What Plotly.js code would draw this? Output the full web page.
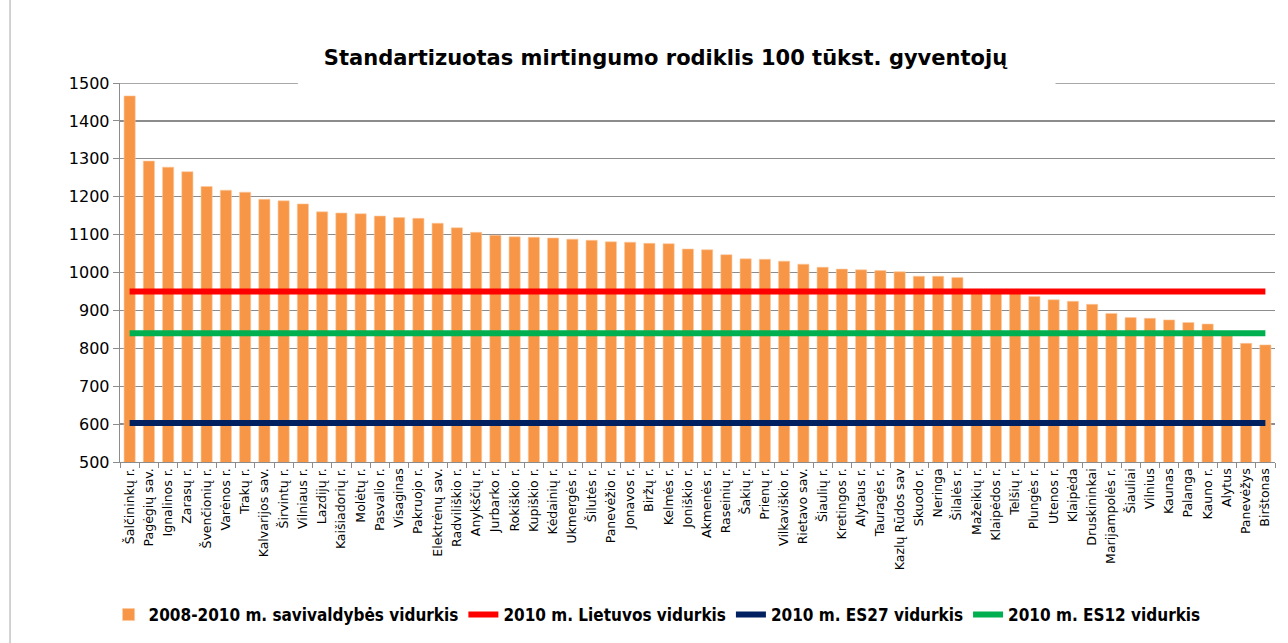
<!DOCTYPE html>
<html>
<head>
<meta charset="utf-8">
<script src="https://cdn.plot.ly/plotly-3.0.1.min.js"></script>
<style>html,body{margin:0;padding:0;background:#fff;}#chart{width:1288px;height:643px;}</style>
</head>
<body>
<div id="chart"></div>
<script>
const municipalities = [
  "Šalčininkų r.","Pagėgių sav.","Ignalinos r.","Zarasų r.","Švenčionių r.","Varėnos r.","Trakų r.","Kalvarijos sav.","Širvintų r.","Vilniaus r.",
  "Lazdijų r.","Kaišiadorių r.","Molėtų r.","Pasvalio r.","Visaginas","Pakruojo r.","Elektrėnų sav.","Radviliškio r.","Anykščių r.","Jurbarko r.",
  "Rokiškio r.","Kupiškio r.","Kėdainių r.","Ukmergės r.","Šilutės r.","Panevėžio r.","Jonavos r.","Biržų r.","Kelmės r.","Joniškio r.",
  "Akmenės r.","Raseinių r.","Šakių r.","Prienų r.","Vilkaviškio r.","Rietavo sav.","Šiaulių r.","Kretingos r.","Alytaus r.","Tauragės r.",
  "Kazlų Rūdos sav","Skuodo r.","Neringa","Šilalės r.","Mažeikių r.","Klaipėdos r.","Telšių r.","Plungės r.","Utenos r.","Klaipėda",
  "Druskininkai","Marijampolės r.","Šiauliai","Vilnius","Kaunas","Palanga","Kauno r.","Alytus","Panevėžys","Birštonas"
];
const municipalAverage = [
  1466,1294,1278,1266,1227,1217,1212,1193,1189,1181,
  1160,1157,1155,1149,1145,1143,1130,1118,1106,1098,
  1094,1093,1091,1088,1085,1081,1080,1077,1076,1062,
  1060,1047,1036,1035,1030,1022,1014,1009,1007,1005,
  1002,990,990,987,952,950,947,937,928,924,
  916,892,881,879,875,868,864,838,813,809
];
const lithuaniaAvg2010 = 950;
const eu27Avg2010 = 603;
const eu12Avg2010 = 840;

const seriesNames = [
  "2008-2010 m. savivaldybės vidurkis",
  "2010 m. Lietuvos vidurkis",
  "2010 m. ES27 vidurkis",
  "2010 m. ES12 vidurkis"
];
const chartTitle = "Standartizuotas mirtingumo rodiklis 100 tūkst. gyventojų";
const yMin = 500, yMax = 1500;

const flat = v => municipalities.map(() => v);

const traces = [
  {type:"bar", x:municipalities, y:municipalAverage, name:seriesNames[0],
   marker:{color:"#F79646", line:{color:"#FBC9A0", width:0.6}}},
  {type:"scatter", mode:"lines", x:municipalities, y:flat(lithuaniaAvg2010), name:seriesNames[1],
   line:{color:"#FF0000", width:6}},
  {type:"scatter", mode:"lines", x:municipalities, y:flat(eu27Avg2010), name:seriesNames[2],
   line:{color:"#002060", width:6}},
  {type:"scatter", mode:"lines", x:municipalities, y:flat(eu12Avg2010), name:seriesNames[3],
   line:{color:"#00B050", width:6}}
];
traces.forEach(t => { t.name = "<b>" + t.name + "</b>"; });

const layout = {
  width:1288, height:643,
  margin:{l:120, r:13, t:83, b:180},
  paper_bgcolor:"#fff", plot_bgcolor:"#fff",
  bargap:0.42,
  showlegend:true,
  title:{text:"<b>"+chartTitle+"</b>", font:{family:"DejaVu Sans", size:21, color:"#000"},
         xref:"paper", x:0.4723, xanchor:"center", yref:"container", y:0.911, yanchor:"middle"},
  xaxis:{type:"category", tickangle:-90, tickson:"boundaries", ticks:"outside", ticklen:5,
         tickcolor:"#8c8c8c", showline:true, linecolor:"#8c8c8c", linewidth:1.3, showgrid:false,
         tickfont:{family:"DejaVu Sans", size:12.5, color:"#000"}, automargin:false},
  yaxis:{range:[yMin,yMax], dtick:100, tick0:500, ticks:"outside", ticklen:6, tickcolor:"#8c8c8c",
         showline:true, linecolor:"#8c8c8c", linewidth:1.3, showgrid:true, gridcolor:"#8c8c8c", gridwidth:1.3,
         zeroline:false, tickfont:{family:"DejaVu Sans", size:16, color:"#000"}, automargin:false},
  legend:{orientation:"h", x:0.465, xanchor:"center", y:-0.40, yanchor:"middle",
          font:{family:"DejaVu Sans Condensed, Liberation Sans Narrow, sans-serif", size:17, color:"#000"},
          itemwidth:30, traceorder:"normal"},
  shapes:[
    {type:"line", xref:"paper", yref:"y", x0:0, x1:1, y0:yMax, y1:yMax,
     line:{color:"#8c8c8c", width:1.3}, layer:"below"},
    {type:"rect", xref:"paper", yref:"paper", x0:0.154, x1:0.810, y0:0.99, y1:1.03,
     fillcolor:"#fff", line:{width:0}, layer:"above"},
    {type:"line", xref:"paper", yref:"paper", x0:-0.0952, x1:-0.0952, y0:-0.5, y1:1.3,
     line:{color:"#a6a6a6", width:1}}
  ]
};

Plotly.newPlot("chart", traces, layout, {displayModeBar:false, staticPlot:true});
</script>
</body>
</html>
